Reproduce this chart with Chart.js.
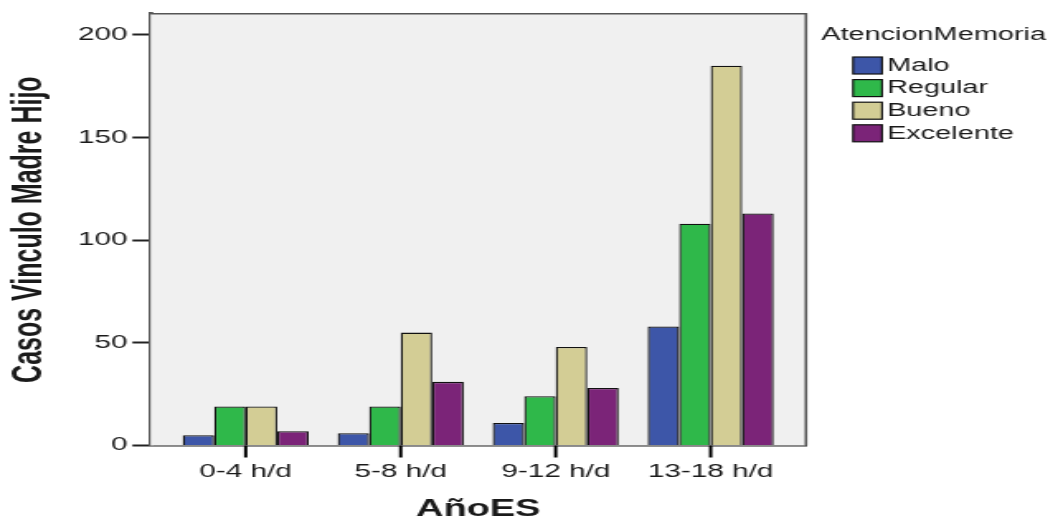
<!DOCTYPE html>
<html>
<head>
<meta charset="utf-8">
<script src="https://cdn.jsdelivr.net/npm/chart.js@4.4.0/dist/chart.umd.min.js"></script>
<style>
  html, body { margin: 0; padding: 0; background: #fff; overflow: hidden; }
  /* the original picture is stretched sideways, so the chart is drawn narrow and scaled */
  #wrap { width: 644px; height: 523px; transform: scaleX(1.6506); transform-origin: 0 0; }
</style>
</head>
<body>
<div id="wrap"><canvas id="chart" width="644" height="523"></canvas></div>
<script>
// Data
const categories = ['0-4 h/d', '5-8 h/d', '9-12 h/d', '13-18 h/d'];
const seriesNames = ['Malo', 'Regular', 'Bueno', 'Excelente'];
const malo = [5, 6, 11, 58];
const regular = [19, 19, 24, 108];
const bueno = [19, 55, 48, 185];
const excelente = [7, 31, 28, 113];
const yTicks = [0, 50, 100, 150, 200];

const colors = ['#3d56a8', '#2fb84a', '#d3cd95', '#7b2478'];
const fontFamily = "'Liberation Sans', Arial, sans-serif";
const textColor = '#1a1a1a';

const datasets = [malo, regular, bueno, excelente].map((values, i) => ({
  label: seriesNames[i],
  data: values.map((v, idx) => ({ x: idx, y: v })),
  backgroundColor: colors[i],
  borderColor: '#111',
  borderWidth: 1.3,
  categoryPercentage: 0.813,
  barPercentage: 1
}));

// Plot background
const backgroundPlugin = {
  id: 'plotBackground',
  beforeDatasetsDraw(chart) {
    const { ctx, chartArea: a } = chart;
    ctx.save();
    ctx.fillStyle = '#f0f0f0';
    ctx.fillRect(a.left, a.top, a.right - a.left, a.bottom - a.top);
    ctx.restore();
  }
};

// Frame on top and right, plus the category tick marks under the axis
const framePlugin = {
  id: 'frame',
  afterDraw(chart) {
    const { ctx, chartArea: a } = chart;
    const xs = chart.scales.x;
    ctx.save();
    ctx.strokeStyle = '#555';
    ctx.lineWidth = 1.6;
    ctx.beginPath();
    ctx.moveTo(a.left, a.top);
    ctx.lineTo(a.right, a.top);
    ctx.lineTo(a.right, a.bottom);
    ctx.stroke();

    ctx.fillStyle = '#000';
    categories.forEach((c, i) => {
      const px = xs.getPixelForValue(i);
      ctx.fillRect(px - 1, a.bottom, 2, 12);
    });
    ctx.restore();
  }
};

// Legend in the SPSS style: title, then boxes with labels
const legendPlugin = {
  id: 'spssLegend',
  afterDraw(chart) {
    const { ctx } = chart;
    ctx.save();
    ctx.font = '17.5px ' + fontFamily;
    ctx.fillStyle = textColor;
    ctx.textBaseline = 'middle';
    ctx.textAlign = 'left';
    ctx.fillText('AtencionMemoria', 497.5, 35);
    chart.data.datasets.forEach((ds, i) => {
      const cy = 65.5 + i * 22.6;
      ctx.fillStyle = ds.backgroundColor;
      ctx.fillRect(516.8, cy - 8.5, 17.6, 17);
      ctx.strokeStyle = '#111';
      ctx.lineWidth = 1.2;
      ctx.strokeRect(516.8, cy - 8.5, 17.6, 17);
      ctx.fillStyle = textColor;
      ctx.fillText(ds.label, 537.4, cy + 0.5);
    });
    ctx.restore();
  }
};

const chart = new Chart(document.getElementById('chart'), {
  type: 'bar',
  data: { datasets },
  plugins: [backgroundPlugin, framePlugin, legendPlugin],
  options: {
    responsive: false,
    animation: false,
    devicePixelRatio: 1,
    layout: { padding: { left: 0, right: 155.7, top: 12.7, bottom: 0 } },
    plugins: {
      legend: { display: false },
      tooltip: { enabled: false }
    },
    scales: {
      x: {
        type: 'linear',
        offset: false,
        min: -0.614,
        max: 3.615,
        afterFit: s => { s.height = 77.5; },
        afterBuildTicks: s => { s.ticks = categories.map((c, i) => ({ value: i })); },
        ticks: {
          callback: v => categories[v],
          color: textColor,
          font: { family: fontFamily, size: 18 },
          padding: 8,
          maxRotation: 0,
          autoSkip: false
        },
        grid: { display: false },
        border: { display: true, color: '#222', width: 1.6 },
        title: {
          display: true,
          text: 'AñoES',
          color: textColor,
          font: { family: fontFamily, size: 23, weight: 'bold', lineHeight: 1.2 },
          padding: { top: 0, bottom: 0 }
        }
      },
      y: {
        min: 0,
        max: 210.3,
        afterFit: s => { s.width = 91.2; },
        afterBuildTicks: s => { s.ticks = yTicks.map(v => ({ value: v })); },
        ticks: {
          color: textColor,
          font: { family: fontFamily, size: 18 },
          padding: 3
        },
        grid: { drawOnChartArea: false, drawTicks: true, tickLength: 11, tickColor: '#222', tickWidth: 2 },
        border: { display: true, color: '#555', width: 2.8 },
        title: {
          display: true,
          text: 'Casos Vinculo Madre Hijo',
          color: textColor,
          font: { family: fontFamily, size: 25, weight: 'bold', lineHeight: 1.2 },
          padding: { top: 3, bottom: 0 }
        }
      }
    }
  }
});
</script>
</body>
</html>
